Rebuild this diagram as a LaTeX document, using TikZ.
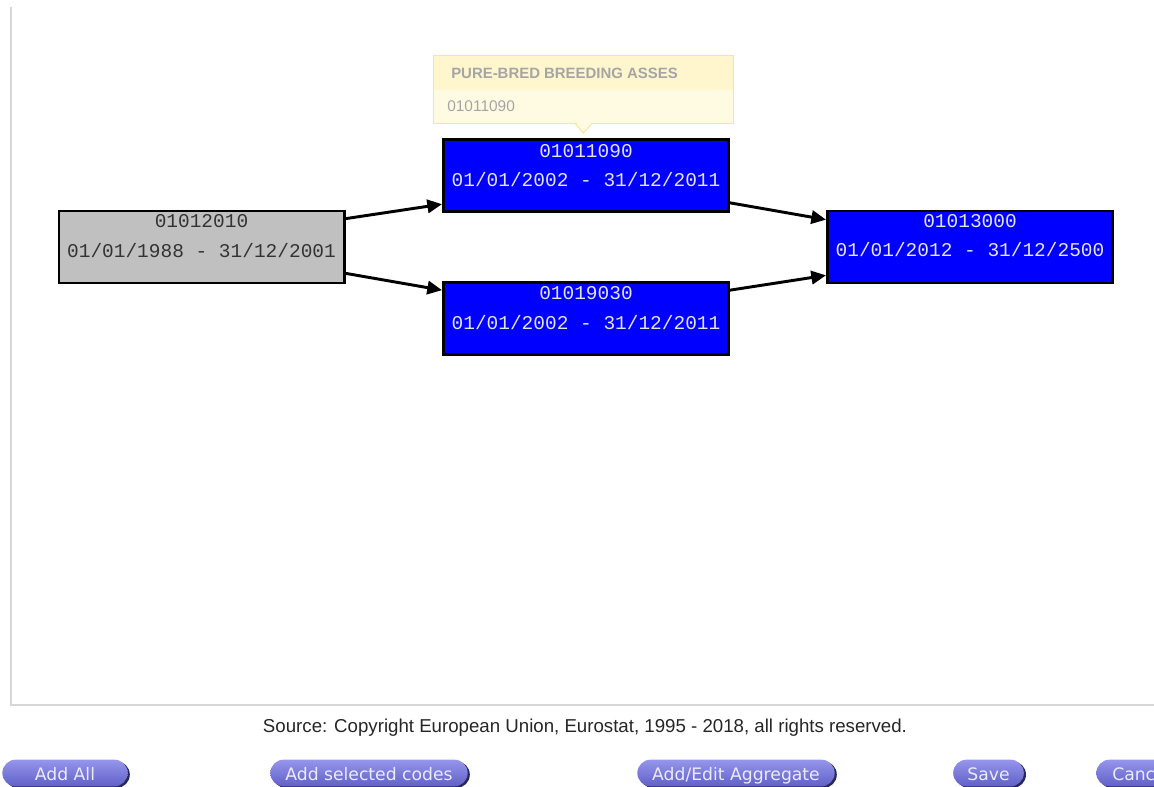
\documentclass[tikz,border=0pt]{standalone}
\usepackage{fontspec}
\setmainfont{Liberation Sans}
\setmonofont{Liberation Mono}
\newfontfamily\btnfont{DejaVu Sans}
\usepackage{tikz}
\usetikzlibrary{positioning,arrows.meta,calc,shadows}
\usepackage{xcolor}
\definecolor{codeblue}{RGB}{0,0,255}
\definecolor{codegray}{RGB}{192,192,192}
\definecolor{tipfill}{RGB}{255,251,226}
\definecolor{tipband}{RGB}{255,246,206}
\definecolor{tipline}{RGB}{244,230,160}
\definecolor{tiptext}{RGB}{165,165,165}
\definecolor{btntop}{RGB}{150,150,236}
\definecolor{btnbot}{RGB}{96,96,200}
\definecolor{btnshade}{RGB}{40,40,90}
\definecolor{framegray}{RGB}{214,214,214}

\begin{document}
\begin{tikzpicture}[x=0.75pt, y=-0.75pt, >=Triangle,
    blockGray/.style={fill=codegray, draw=black, line width=2pt, minimum width=214pt, minimum height=54pt, inner sep=0pt},
    blockBlue/.style={fill=codeblue, draw=black, line width=2pt, minimum width=214pt, minimum height=54pt, inner sep=0pt},
    codeGray/.style={font=\ttfamily\fontsize{14.6}{16}\selectfont, text=black!80, anchor=base, inner sep=0pt},
    codeBlue/.style={font=\ttfamily\fontsize{14.6}{16}\selectfont, text=white!90!black, anchor=base, inner sep=0pt},
    link/.style={->, line width=2.2pt, arrows={-{Triangle[length=11pt,width=10pt]}}},
    tipbox/.style={fill=tipfill, draw=tipline, line width=0.8pt, minimum width=225pt, minimum height=51pt, inner sep=0pt},
    tiptxt/.style={text=tiptext, anchor=base west, inner sep=0pt},
    button/.style={rounded corners=10pt, minimum height=20pt, inner sep=0pt, text height=12pt, text depth=1.5pt,
        top color=btntop, bottom color=btnbot,
        drop shadow={shadow xshift=1.6pt, shadow yshift=-1.2pt, fill=btnshade, opacity=1},
        font=\btnfont\fontsize{12.9}{14}\selectfont, text=white!92!blue}
]
    \useasboundingbox (0,0) rectangle (1154,787);
    \clip (0,0) rectangle (1154,787);

    % Frame of the panel
    \draw[framegray, line width=1.6pt] (11,7) -- (11,705) -- (1160,705);

    % Tooltip
    \node[tipbox] (tip) at (583.5,89.5) {};
    \fill[tipband] ([shift={(0.6,0.6)}]tip.north west) rectangle ($(tip.north east)+(-0.6,35)$);
    \filldraw[fill=tipfill, draw=tipline, line width=0.8pt] ($(tip.south)+(-8,0)$) -- ($(tip.south)+(0,9)$) -- ($(tip.south)+(8,0)$);
    \fill[tipfill] ($(tip.south)+(-7,-1)$) rectangle ($(tip.south)+(7,0.5)$);
    \node[tiptxt, font=\bfseries\fontsize{11.2}{13}\selectfont] (tiptitle) at (451,79) {PURE-BRED BREEDING ASSES};
    \node[tiptxt, font=\fontsize{11.6}{13}\selectfont] (tipcode) at (447,112) {01011090};

    % Codes
    \node[blockGray] (c2010) at (201.5,247) {};
    \node[codeGray] (c2010code) at (201.5,228) {01012010};
    \node[codeGray] (c2010date) at (201.5,258) {01/01/1988 - 31/12/2001};

    \node[blockBlue] (c1090) at (586,175.5) {};
    \node[codeBlue] (c1090code) at (586,158) {01011090};
    \node[codeBlue] (c1090date) at (586,187) {01/01/2002 - 31/12/2011};

    \node[blockBlue] (c9030) at (586,318.5) {};
    \node[codeBlue] (c9030code) at (586,300) {01019030};
    \node[codeBlue] (c9030date) at (586,330) {01/01/2002 - 31/12/2011};

    \node[blockBlue] (c3000) at (970,247) {};
    \node[codeBlue] (c3000code) at (970,228) {01013000};
    \node[codeBlue] (c3000date) at (970,257) {01/01/2012 - 31/12/2500};

    % Links
    \draw[link] ([yshift=-6.75pt]c2010.north east) -- ([yshift=6.5pt]c1090.south west);
    \draw[link] ([yshift=8.25pt]c2010.south east) -- ([yshift=-6.75pt]c9030.north west);
    \draw[link] ([yshift=7.5pt]c1090.south east) -- ([yshift=-7.5pt]c3000.north west);
    \draw[link] ([yshift=-6.75pt]c9030.north east) -- ([yshift=6.75pt]c3000.south west);

    % Source
    \node[anchor=base, inner sep=0pt, text=black!85, font=\fontsize{14}{16}\selectfont] (source) at (585,733)
        {Source: Copyright European Union, Eurostat, 1995 - 2018, all rights reserved.};

    % Buttons
    \node[button, minimum width=94pt] (addall) at (65,773) {Add All};
    \node[button, minimum width=148pt] (addsel) at (369,773) {Add selected codes};
    \node[button, minimum width=148pt] (addagg) at (736,773) {Add/Edit Aggregate};
    \node[button, minimum width=53pt] (save) at (988.5,773) {Save};
    \node[button, minimum width=80pt, anchor=west, align=left, text width=70pt] (cancel) at (1096,773) {\hspace*{7pt}Canc};

\end{tikzpicture}
\end{document}
